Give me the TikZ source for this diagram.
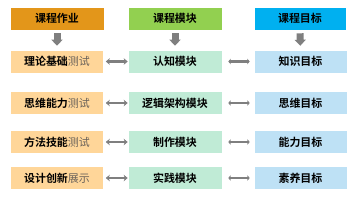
\documentclass[tikz,border=0pt]{standalone}
\usepackage{fontspec}
\setmainfont{Noto Sans CJK SC}[BoldFont={Noto Sans CJK SC Bold}]
\usetikzlibrary{arrows.meta}
\definecolor{hdrA}{HTML}{E3961A}
\definecolor{hdrB}{HTML}{92D050}
\definecolor{hdrC}{HTML}{00B0F0}
\definecolor{boxA}{HTML}{FFD699}
\definecolor{boxB}{HTML}{C0EBD6}
\definecolor{boxC}{HTML}{BEE1F5}
\definecolor{arrg}{HTML}{7F7F7F}
\definecolor{softtxt}{HTML}{6A625A}
\newcommand{\lt}[1]{{\mdseries\color{softtxt}#1}}
\begin{document}
\begin{tikzpicture}[x=1bp,y=-1bp,
  cell/.style={draw=white, line width=0.6bp, minimum width=93bp, minimum height=23bp,
    inner sep=0pt, font=\fontsize{11}{12}\selectfont\bfseries, text=black},
  downarr/.style={draw=arrg, line width=7bp, -{Triangle[width=11bp,length=6bp]},
    shorten <=3bp, shorten >=4bp},
  linkA/.style={draw=arrg, line width=2.2bp, {Stealth[width=6.5bp,length=4bp]}-{Stealth[width=6.5bp,length=4bp]},
    shorten <=2bp, shorten >=0bp},
  linkB/.style={draw=arrg, line width=2.4bp, {Stealth[width=5.5bp,length=2.5bp]}-{Stealth[width=5.5bp,length=2.5bp]},
    shorten <=6bp, shorten >=4bp}]
\useasboundingbox (0,0) rectangle (359,201);
% headers
\node[cell, fill=hdrA, minimum width=94bp] (h1) at (57,18.5) {课程作业};
\node[cell, fill=hdrB, minimum width=94bp] (h2) at (175,18.5) {课程模块};
\node[cell, fill=hdrC, minimum width=92bp] (h3) at (300,18.5) {课程目标};
% column A
\node[cell, fill=boxA] (a1) at (57,61.5) {理论基础\lt{测试}};
\node[cell, fill=boxA] (a2) at (57,103) {思维能力\lt{测试}};
\node[cell, fill=boxA] (a3) at (57,142) {方法技能\lt{测试}};
\node[cell, fill=boxA] (a4) at (57,178) {设计创新\lt{展示}};
% column B
\node[cell, fill=boxB, minimum width=94bp] (b1) at (175,61.5) {认知模块};
\node[cell, fill=boxB, minimum width=94bp] (b2) at (175,103) {逻辑架构模块};
\node[cell, fill=boxB, minimum width=94bp] (b3) at (175,142) {制作模块};
\node[cell, fill=boxB, minimum width=94bp] (b4) at (175,178) {实践模块};
% column C
\node[cell, fill=boxC] (c1) at (300.5,61.5) {知识目标};
\node[cell, fill=boxC] (c2) at (300.5,103) {思维目标};
\node[cell, fill=boxC] (c3) at (300.5,142) {能力目标};
\node[cell, fill=boxC] (c4) at (300.5,178) {素养目标};
% down arrows
\draw[downarr] (h1.south) -- (a1.north);
\draw[downarr] (h2.south) -- (b1.north);
\draw[downarr] (h3.south) -- (c1.north);
% links
\foreach \i in {1,2,3,4}{
  \draw[linkA] (a\i.east) -- (b\i.west);
  \draw[linkB] (b\i.east) -- (c\i.west);
}
\end{tikzpicture}
\end{document}
